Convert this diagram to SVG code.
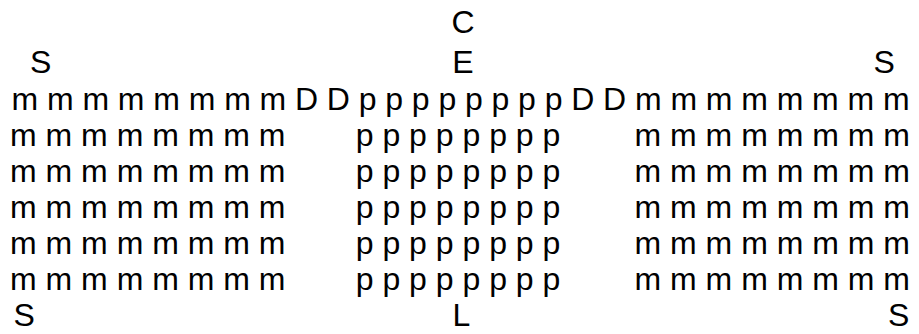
<svg xmlns="http://www.w3.org/2000/svg" width="919" height="334" viewBox="0 0 919 334">
<style>
text{font-family:"Liberation Sans",Arial,sans-serif;font-size:32px;fill:#000}
.m{text-anchor:middle}
.e{text-anchor:end}
</style>
<rect width="919" height="334" fill="#fff"/>
<g id="labels">
<text class="m" x="463" y="33">C</text>
<text class="m" x="463" y="73">E</text>
<text x="30" y="73">S</text>
<text x="873.5" y="73">S</text>
<text x="13.5" y="326">S</text>
<text x="452.5" y="326">L</text>
<text x="888" y="326">S</text>
</g>
<g id="row1">
<text x="11.6" y="110" textLength="898" lengthAdjust="spacing">m m m m m m m m D D p p p p p p p p D D m m m m m m m m</text>
</g>
<g id="left-block">
<text x="10" y="146">m m m m m m m m</text>
<text x="10" y="182">m m m m m m m m</text>
<text x="10" y="218">m m m m m m m m</text>
<text x="10" y="254">m m m m m m m m</text>
<text x="10" y="290">m m m m m m m m</text>
</g>
<g id="center-block">
<text class="m" x="458" y="146">p p p p p p p p</text>
<text class="m" x="458" y="182">p p p p p p p p</text>
<text class="m" x="458" y="218">p p p p p p p p</text>
<text class="m" x="458" y="254">p p p p p p p p</text>
<text class="m" x="458" y="290">p p p p p p p p</text>
</g>
<g id="right-block">
<text class="e" x="910" y="146">m m m m m m m m</text>
<text class="e" x="910" y="182">m m m m m m m m</text>
<text class="e" x="910" y="218">m m m m m m m m</text>
<text class="e" x="910" y="254">m m m m m m m m</text>
<text class="e" x="910" y="290">m m m m m m m m</text>
</g>
</svg>
